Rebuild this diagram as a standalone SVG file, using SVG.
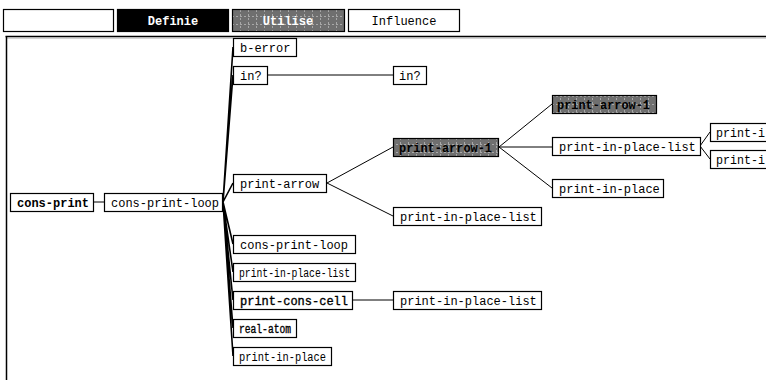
<svg xmlns="http://www.w3.org/2000/svg" width="766" height="380" viewBox="0 0 766 380">
  <defs>
    <pattern id="stipple" width="8" height="8" patternUnits="userSpaceOnUse">
      <rect width="8" height="8" fill="#6f6f6f"/>
      <path d="M0 0.5H2M4 0.5H6M0.5 2V4M0.5 6V8" stroke="#a8a8a8" stroke-width="1"/>
    </pattern>
    <style>
      .btn { stroke: #000; stroke-width: 1.2; }
      .btn-t { font-family: "Liberation Mono", "DejaVu Sans Mono", monospace; font-size: 12px; text-anchor: middle; }
      .box { fill: #fff; stroke: #000; stroke-width: 1.2; }
      .hl { fill: url(#stipple); stroke: #000; stroke-width: 1.2; }
      .lbl { font-family: "Liberation Mono", "DejaVu Sans Mono", monospace; font-size: 12px; fill: #000; }
      .b { font-weight: bold; }
      .dk { stroke: #000; stroke-width: 0.35; }
      .edge { stroke: #000; stroke-width: 1; fill: none; }
      .trunk { stroke: #000; stroke-width: 1.6; fill: none; }
    </style>
  </defs>

  <rect width="766" height="380" fill="#fff"/>

  <!-- mode buttons -->
  <g id="toolbar">
    <rect class="btn" x="3.5" y="9.5" width="110" height="22" fill="#fff"/>
    <rect class="btn" x="117.5" y="9.5" width="111" height="22" fill="#000"/>
    <text class="btn-t b" x="173" y="24.5" fill="#fff">Definie</text>
    <rect class="btn" x="232.5" y="9.5" width="112" height="22" fill="url(#stipple)"/>
    <text class="btn-t b" x="288" y="24.5" fill="#fff">Utilise</text>
    <rect class="btn" x="348.5" y="9.5" width="111" height="22" fill="#fff"/>
    <text class="btn-t" x="404" y="24.5" fill="#000">Influence</text>
  </g>

  <!-- graph panel frame -->
  <g id="panel">
    <path d="M5.5 36.5H766" stroke="#000" stroke-width="1.5"/>
    <path d="M7 38H766" stroke="#aaa" stroke-width="1"/>
    <path d="M6.5 36.5V380" stroke="#000" stroke-width="1.5"/>
  </g>

  <!-- connectors -->
  <g id="connectors">
    <path class="edge" d="M93 202H104"/>
    <path class="trunk" d="M223 202L233 47M223 202L233 75M223 202L233 183M223 202L233 244M223 202L233 272M223 202L233 300M223 202L233 328M223 202L233 356"/>
    <path class="edge" d="M267 75H393"/>
    <path class="edge" d="M327 183L393 147M327 183L393 216"/>
    <path class="edge" d="M499 147L552 104M499 147H552M499 147L552 188"/>
    <path class="edge" d="M700 146L710 132M700 146L710 159"/>
    <path class="edge" d="M352 300H393"/>
  </g>

  <!-- nodes -->
  <g id="n-cons-print">
    <rect class="box" x="10.5" y="193.5" width="83" height="18"/>
    <text class="lbl b" x="17" y="206.5">cons-print</text>
  </g>
  <g id="n-cons-print-loop">
    <rect class="box" x="104.5" y="193.5" width="118" height="18"/>
    <text class="lbl" x="111" y="206.5">cons-print-loop</text>
  </g>
  <g id="n-b-error">
    <rect class="box" x="233.5" y="38.5" width="63" height="18"/>
    <text class="lbl" x="240" y="51.5">b-error</text>
  </g>
  <g id="n-in-1">
    <rect class="box" x="233.5" y="66.5" width="34" height="18"/>
    <text class="lbl" x="240" y="79.5">in?</text>
  </g>
  <g id="n-in-2">
    <rect class="box" x="393.5" y="66.5" width="33" height="18"/>
    <text class="lbl" x="399" y="79.5">in?</text>
  </g>
  <g id="n-print-arrow">
    <rect class="box" x="233.5" y="174.5" width="93" height="18"/>
    <text class="lbl" x="240" y="187.5">print-arrow</text>
  </g>
  <g id="n-print-arrow-1">
    <rect class="hl" x="393.5" y="138.5" width="105" height="18"/>
    <text class="lbl b" x="399" y="151.5" textLength="93" lengthAdjust="spacingAndGlyphs">print-arrow-1</text>
  </g>
  <g id="n-pipl-1">
    <rect class="box" x="393.5" y="207.5" width="148" height="18"/>
    <text class="lbl" x="400" y="220.5">print-in-place-list</text>
  </g>
  <g id="n-print-arrow-1-rec">
    <rect class="hl" x="552.5" y="95.5" width="104" height="18"/>
    <text class="lbl b" x="557" y="108.5" textLength="93" lengthAdjust="spacingAndGlyphs">print-arrow-1</text>
  </g>
  <g id="n-pipl-2">
    <rect class="box" x="552.5" y="137.5" width="148" height="18"/>
    <text class="lbl" x="559" y="150.5">print-in-place-list</text>
  </g>
  <g id="n-pip-1">
    <rect class="box" x="552.5" y="179.5" width="111" height="18"/>
    <text class="lbl" x="559" y="192.5">print-in-place</text>
  </g>
  <g id="n-pi-a">
    <rect class="box" x="710.5" y="123.5" width="70" height="18"/>
    <text class="lbl" x="716" y="136.5" textLength="49" lengthAdjust="spacingAndGlyphs">print-i</text>
  </g>
  <g id="n-pi-b">
    <rect class="box" x="710.5" y="150.5" width="70" height="18"/>
    <text class="lbl" x="716" y="163.5" textLength="49" lengthAdjust="spacingAndGlyphs">print-i</text>
  </g>
  <g id="n-cons-print-loop-2">
    <rect class="box" x="233.5" y="235.5" width="122" height="18"/>
    <text class="lbl" x="240" y="248.5">cons-print-loop</text>
  </g>
  <g id="n-pipl-3">
    <rect class="box" x="233.5" y="263.5" width="122" height="18"/>
    <text class="lbl" x="239" y="276.5" textLength="111" lengthAdjust="spacingAndGlyphs">print-in-place-list</text>
  </g>
  <g id="n-print-cons-cell">
    <rect class="box" x="233.5" y="291.5" width="119" height="18"/>
    <text class="lbl dk" x="240" y="304.5">print-cons-cell</text>
  </g>
  <g id="n-pipl-4">
    <rect class="box" x="393.5" y="291.5" width="148" height="18"/>
    <text class="lbl" x="400" y="304.5">print-in-place-list</text>
  </g>
  <g id="n-real-atom">
    <rect class="box" x="233.5" y="319.5" width="63" height="18"/>
    <text class="lbl dk" x="239" y="332.5" textLength="52" lengthAdjust="spacingAndGlyphs">real-atom</text>
  </g>
  <g id="n-pip-2">
    <rect class="box" x="233.5" y="347.5" width="98" height="18"/>
    <text class="lbl" x="239" y="360.5" textLength="87" lengthAdjust="spacingAndGlyphs">print-in-place</text>
  </g>
</svg>
